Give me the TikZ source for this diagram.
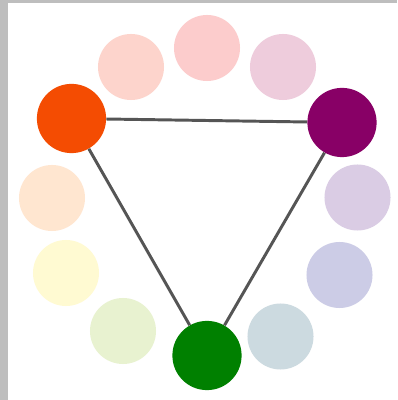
\documentclass[tikz,border=0pt]{standalone}
\usetikzlibrary{calc}
\definecolor{framegray}{RGB}{190, 190, 190}
\definecolor{linkgray}{RGB}{85, 85, 85}
\definecolor{hotorange}{RGB}{244, 76, 2}
\definecolor{hotpurple}{RGB}{136, 0, 102}
\definecolor{hotgreen}{RGB}{0, 128, 0}
\definecolor{tintrose}{RGB}{252, 204, 204}
\definecolor{tintsalmon}{RGB}{253, 212, 204}
\definecolor{tintmauve}{RGB}{238, 204, 220}
\definecolor{tintpeach}{RGB}{255, 230, 208}
\definecolor{tintyellow}{RGB}{255, 250, 210}
\definecolor{tintlime}{RGB}{232, 242, 208}
\definecolor{tintsteel}{RGB}{204, 218, 224}
\definecolor{tintlavender}{RGB}{204, 204, 230}
\definecolor{tintlilac}{RGB}{218, 204, 228}
\tikzset{
    pale/.style={circle, minimum size=1.65cm, inner sep=0pt, fill=#1},
    bright/.style={circle, minimum size=1.73cm, inner sep=0pt, fill=#1},
    link/.style={line width=2.1pt, color=linkgray},
}
\begin{document}
\begin{tikzpicture}[x=0.025cm, y=0.025cm]
    % Frame
    \fill[framegray] (0,0) rectangle (397,400);
    \fill[white] (8,0) rectangle (397,397);
    \useasboundingbox (0,0) rectangle (397,400);

    % Pale ring
    \foreach \pos/\col/\nm in {(207,352)/tintrose/rose, (131,333)/tintsalmon/salmon,
        (283,333)/tintmauve/mauve, (52,202)/tintpeach/peach,
        (66,127)/tintyellow/yellow, (123,69)/tintlime/lime,
        (280.5,63.5)/tintsteel/steel, (339.5,125)/tintlavender/lavender,
        (357.5,202.5)/tintlilac/lilac}
        \node[pale=\col] (\nm) at \pos {};

    % Triad
    \node[bright=hotorange] (orange) at (71.5,281.5) {};
    \node[bright=hotpurple] (purple) at (342,277.5) {};
    \node[bright=hotgreen] (green) at (207,44.5) {};

    % Triangle
    \draw[link] (orange) -- (purple);
    \draw[link] (purple) -- (green);
    \draw[link] (green) -- (orange);
\end{tikzpicture}
\end{document}
